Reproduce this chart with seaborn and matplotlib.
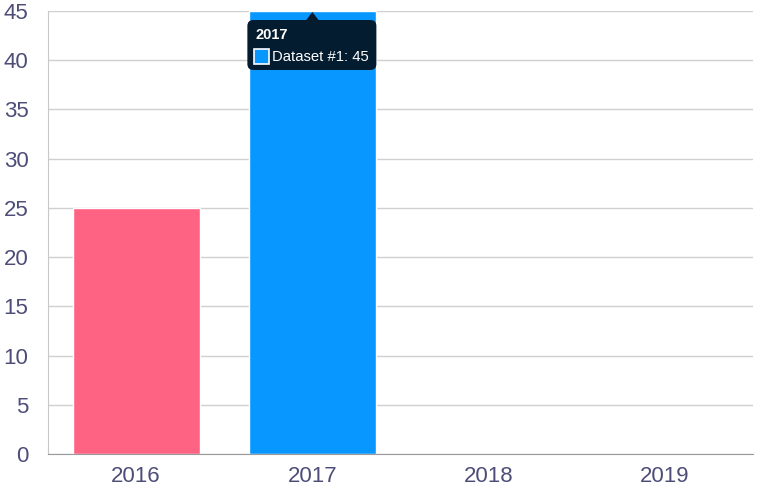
import matplotlib
matplotlib.use("Agg")
import matplotlib.pyplot as plt
import seaborn as sns
import pandas as pd
from matplotlib.patches import FancyBboxPatch, Polygon, Rectangle

years = ["2016", "2017", "2018", "2019"]
values = [25, 45, 0, 0]
bar_colors = ["#FF6384", "#0797FF", "#FFCE56", "#4BC0C0"]
yticks = [0, 5, 10, 15, 20, 25, 30, 35, 40, 45]
tip_index = 1
tip_label = "Dataset #1"

df = pd.DataFrame({"year": years, "value": values})

sns.set_style("white")
plt.rcParams["font.family"] = ["Liberation Sans", "DejaVu Sans"]

fig = plt.figure(figsize=(7.81, 5.0), dpi=100)
ax = fig.add_axes([48 / 781, 46 / 500, 705 / 781, 443 / 500])

sns.barplot(data=df, x="year", y="value", hue="year", palette=bar_colors,
            width=0.72, legend=False, ax=ax, saturation=1)

ax.set_ylim(0, 45)
ax.set_xlim(-0.5, 3.5)
ax.set_yticks(yticks)
ax.set_xlabel("")
ax.set_ylabel("")
ax.set_axisbelow(True)
ax.yaxis.grid(True, color="#d0d0d0", linewidth=1)
ax.xaxis.grid(False)

label_color = "#4d4d78"
ax.tick_params(axis="y", length=13, width=1, color="#c8c8c8", pad=1,
               labelsize=16, labelcolor=label_color)
ax.tick_params(axis="x", length=0, pad=9, labelsize=16, labelcolor=label_color)

for side in ["top", "right"]:
    ax.spines[side].set_visible(False)
ax.spines["left"].set_color("#c8c8c8")
ax.spines["bottom"].set_color("#9a9a9a")

# tooltip over the hovered bar
fig.canvas.draw()
tx, ty = ax.transData.transform((tip_index, values[tip_index]))
ty = ty - 1
bg = "#041c2f"
bw, bh = 129, 50
box_top = ty - 8
bx = tx - 65
by = box_top - bh
tri = Polygon([[tx, ty], [tx - 7, box_top - 1], [tx + 7, box_top - 1]],
              closed=True, transform=None, facecolor=bg, edgecolor="none", zorder=10)
fig.patches.append(tri)
box = FancyBboxPatch((bx, by), bw, bh, boxstyle="round,pad=0,rounding_size=6",
                     transform=None, facecolor=bg, edgecolor="none", zorder=10)
fig.patches.append(box)
sq = Rectangle((bx + 7, by + 6), 15, 15, transform=None,
               facecolor=bar_colors[tip_index], edgecolor="white", linewidth=1.2, zorder=11)
fig.patches.append(sq)
fig.text((bx + 8) / 781, (by + 35) / 500, years[tip_index], color="white",
         fontsize=10.5, fontweight="bold", va="center", ha="left", zorder=12)
fig.text((bx + 25) / 781, (by + 13) / 500, f"{tip_label}: {values[tip_index]}",
         color="white", fontsize=10.7, va="center", ha="left", zorder=12)

plt.savefig("out.png", dpi=100)
